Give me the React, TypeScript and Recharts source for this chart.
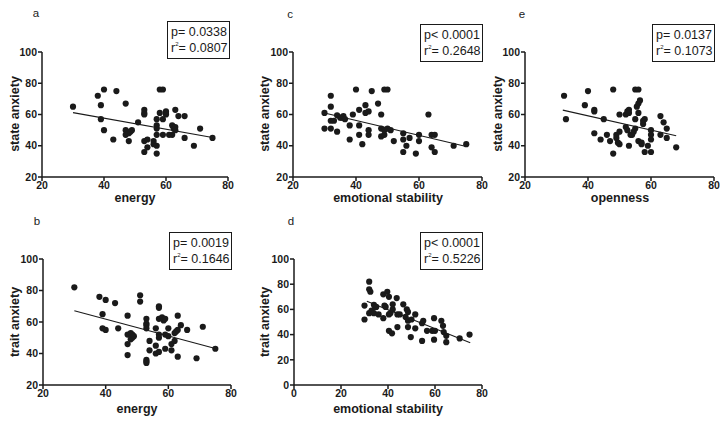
import React from "react";
import { ScatterChart, Scatter, XAxis, YAxis, ReferenceLine } from "recharts";

const FONT = '"Liberation Sans", Arial, Helvetica, sans-serif';
const INK = "#1a1a1a";

// panel a: energy vs state anxiety
const energyA = [30, 38, 40, 44, 39, 39, 40, 43, 47, 47, 47, 48, 48.5, 49, 48, 51, 53, 53, 53, 53, 53, 54, 54, 56, 56, 57, 57, 57, 57, 57, 57, 58, 58, 59, 59, 59, 60, 60, 60, 61, 62, 62, 62.5, 63, 63, 63, 64, 66, 66, 69, 71, 75];
const stateA = [65, 72, 76, 75, 66, 57, 50, 44, 67, 50, 47, 48, 49, 50, 43, 55, 63, 61, 60, 43, 36, 39, 44, 43, 41, 57, 53, 51, 47, 40, 35, 61, 76, 76, 57, 47, 61, 60, 62, 47, 47, 53, 51, 50, 52, 63, 59, 59, 45, 40, 51, 45];

// panel b: energy vs trait anxiety
const energyB = [30, 38, 39, 39, 40, 40, 43, 44, 47, 47, 47, 47, 48, 48.5, 48, 48.5, 49, 51, 51, 53, 53, 53, 53, 53, 53, 53, 54, 54, 56, 56, 56, 57, 57, 57, 57, 57, 57, 58, 58.5, 59, 59, 59, 60, 60, 61, 61, 62, 62, 62.5, 63, 63, 63, 64, 66, 69, 71, 75];
const traitB = [82, 76, 65, 56, 74, 55, 72, 56, 64, 52, 46, 39, 53, 52, 49, 50, 51, 77, 73, 62, 59, 58, 56, 36, 35, 34, 48, 42, 56, 45, 40, 70, 69, 62, 52, 50, 41, 63, 61, 62, 43, 52, 56, 51, 42, 46, 48, 53, 54, 64, 38, 55, 58, 55, 37, 57, 43];

// panel c: emotional stability vs state anxiety
const stabilityC = [30, 30, 32, 32, 32, 32, 33, 34, 34, 35, 35.5, 36, 36.5, 38, 38, 39, 40, 41, 41, 41, 42, 43, 43, 44, 44, 44, 45, 47, 48, 48, 48, 49, 49, 49, 50, 50, 51, 52, 55, 55, 55, 56, 57, 59, 60, 60, 63, 64, 65, 64, 65, 71, 75];
const stateC = [61, 51, 72, 65, 56, 51, 56, 59.5, 49, 58, 58, 59, 57, 53, 44, 60, 76, 63, 53, 47, 41, 66, 61, 62, 50, 47, 75, 67, 60, 51, 46, 47, 50, 76, 76, 51, 50, 43, 48, 44, 36, 40, 45, 35, 47, 43, 60, 47, 47, 39, 36, 40, 41];

// panel d: emotional stability vs trait anxiety
const stabilityD = [30, 30, 32, 32, 32.5, 32, 33, 34, 34.5, 34, 36, 35, 38, 38, 38.5, 39, 39.7, 40.4, 40.4, 41, 40.4, 41.7, 42, 42, 43.7, 44, 45, 44, 46.5, 48, 48.5, 47.5, 48.5, 50, 48.5, 49.7, 51.6, 51.6, 54.5, 55, 54.5, 56.6, 59.6, 58.8, 60, 59.6, 62.7, 63.4, 63.7, 64.8, 64.8, 70.5, 74.7];
const traitD = [63, 52, 82, 76, 74, 57, 59, 63.6, 62, 57, 56, 62, 72, 53, 63, 62, 74, 70, 56, 57, 43, 41, 64, 60, 69, 56, 56, 46, 64, 60, 58, 54, 51, 52, 46, 38, 56, 45, 49, 51, 35, 43, 53, 43, 43, 36, 51, 47, 42, 39, 34, 37, 40];

// panel e: openness vs state anxiety
const opennessE = [32.4, 33, 39, 40, 42, 42, 42, 45, 44, 46, 47, 48, 48, 49, 49, 49.5, 50, 50, 50, 52, 52.5, 52, 52.5, 53, 53, 53, 53.5, 54, 55, 55, 55, 56, 55.5, 56, 56.5, 56, 54.5, 56, 57, 57, 57.5, 58, 57.5, 58, 60, 59, 60, 60, 60, 63, 63, 64, 65, 65, 68];
const stateE = [72, 57, 66, 75, 63, 62, 48, 57, 44, 47, 43, 76, 35, 47, 45, 42, 41, 60, 49, 60, 62, 52, 50, 63, 61, 40, 47, 47, 57, 51, 76, 76, 65, 67, 69, 61, 49, 43, 42, 41, 56, 57, 54, 36, 36, 40, 50, 47, 44, 59, 47, 55, 51, 45, 39];

// regression line end points
const fitA = { x: [30, 75], y: [61.2, 45.3] };
const fitB = { x: [30, 75], y: [67.2, 43.2] };
const fitC = { x: [30, 75], y: [61, 39.5] };
const fitD = { x: [31, 75], y: [66.5, 33.5] };
const fitE = { x: [32, 68], y: [62.8, 46.4] };

const ticks20to80 = [20, 40, 60, 80];
const ticks0to80 = [0, 20, 40, 60, 80];
const ticks20to100 = [20, 40, 60, 80, 100];
const ticks0to100 = [0, 20, 40, 60, 80, 100];

const Y_AXIS_W = 30;
const X_AXIS_H = 20;

const toPoints = (xs: number[], ys: number[]) => xs.map((x, i) => ({ x, y: ys[i] }));

const Dot = (props: any) => <circle cx={props.cx} cy={props.cy} r={3.1} fill={INK} />;

interface PanelProps {
  left: number;
  top: number;
  width: number;
  height: number;
  // plot area edges inside the panel box
  plot: { top: number; right: number; bottom: number; left: number };
  xs: number[];
  ys: number[];
  fit: { x: number[]; y: number[] };
  xDomain: [number, number];
  xTicks: number[];
  yDomain: [number, number];
  yTicks: number[];
}

function Panel(p: PanelProps) {
  const tick = { fontSize: 10.5, fontWeight: 700, fill: INK, fontFamily: FONT };
  const margin = {
    top: p.plot.top,
    right: p.plot.right,
    bottom: p.plot.bottom - X_AXIS_H,
    left: p.plot.left - Y_AXIS_W,
  };
  return (
    <div style={{ position: "absolute", left: p.left, top: p.top }}>
      <ScatterChart width={p.width} height={p.height} margin={margin}>
        <XAxis
          type="number"
          dataKey="x"
          domain={p.xDomain}
          ticks={p.xTicks}
          interval={0}
          height={X_AXIS_H}
          tick={tick}
          tickSize={4}
          tickMargin={1}
          axisLine={{ stroke: INK, strokeWidth: 1.5 }}
          tickLine={{ stroke: INK, strokeWidth: 1.5 }}
          allowDataOverflow
        />
        <YAxis
          type="number"
          dataKey="y"
          domain={p.yDomain}
          ticks={p.yTicks}
          interval={0}
          width={Y_AXIS_W}
          tick={tick}
          tickSize={4}
          tickMargin={1}
          axisLine={{ stroke: INK, strokeWidth: 1.5 }}
          tickLine={{ stroke: INK, strokeWidth: 1.5 }}
          allowDataOverflow
        />
        <ReferenceLine
          segment={[
            { x: p.fit.x[0], y: p.fit.y[0] },
            { x: p.fit.x[1], y: p.fit.y[1] },
          ]}
          stroke={INK}
          strokeWidth={1.1}
        />
        <Scatter data={toPoints(p.xs, p.ys)} shape={Dot} isAnimationActive={false} />
      </ScatterChart>
    </div>
  );
}

function StatBox({ left, top, p, r }: { left: number; top: number; p: string; r: string }) {
  return (
    <div
      style={{
        position: "absolute",
        left,
        top,
        width: 57,
        border: `1.6px solid ${INK}`,
        padding: "2px 1px 2px 3px",
        fontFamily: FONT,
        fontSize: 12.5,
        lineHeight: "16px",
        color: INK,
        background: "#fff",
      }}
    >
      <div>{p}</div>
      <div>
        r<sup style={{ fontSize: 6, verticalAlign: "top", lineHeight: "8px" }}>2</sup>= {r}
      </div>
    </div>
  );
}

function Txt({ x, y, children, bold, size, rotate }: any) {
  return (
    <div
      style={{
        position: "absolute",
        left: x,
        top: y,
        transform: `translate(-50%, -50%)${rotate ? " rotate(-90deg)" : ""}`,
        fontFamily: FONT,
        fontWeight: bold ? 700 : 400,
        fontSize: size,
        color: INK,
        whiteSpace: "nowrap",
      }}
    >
      {children}
    </div>
  );
}

export default function App() {
  return (
    <div style={{ position: "absolute", left: 0, top: 0, width: 725, height: 424, background: "#fff", overflow: "hidden" }}>
      <Panel left={0} top={0} width={240} height={205} plot={{ top: 52, right: 12, bottom: 28, left: 42 }}
        xs={energyA} ys={stateA} fit={fitA} xDomain={[20, 80]} xTicks={ticks20to80} yDomain={[20, 100]} yTicks={ticks20to100} />
      <Panel left={240} top={0} width={250} height={205} plot={{ top: 52, right: 8, bottom: 28, left: 53 }}
        xs={stabilityC} ys={stateC} fit={fitC} xDomain={[20, 80]} xTicks={ticks20to80} yDomain={[20, 100]} yTicks={ticks20to100} />
      <Panel left={480} top={0} width={245} height={205} plot={{ top: 52, right: 11, bottom: 28, left: 45 }}
        xs={opennessE} ys={stateE} fit={fitE} xDomain={[20, 80]} xTicks={ticks20to80} yDomain={[20, 100]} yTicks={ticks20to100} />
      <Panel left={0} top={205} width={240} height={219} plot={{ top: 54, right: 9, bottom: 39, left: 43 }}
        xs={energyB} ys={traitB} fit={fitB} xDomain={[20, 80]} xTicks={ticks20to80} yDomain={[20, 100]} yTicks={ticks20to100} />
      <Panel left={240} top={205} width={250} height={219} plot={{ top: 54, right: 8, bottom: 39, left: 54 }}
        xs={stabilityD} ys={traitD} fit={fitD} xDomain={[0, 80]} xTicks={ticks0to80} yDomain={[0, 100]} yTicks={ticks0to100} />

      <Txt x={36} y={13} size={11.5}>a</Txt>
      <Txt x={290} y={14} size={11.5}>c</Txt>
      <Txt x={522} y={14} size={11.5}>e</Txt>
      <Txt x={37} y={221} size={11.5}>b</Txt>
      <Txt x={291} y={221} size={11.5}>d</Txt>

      <StatBox left={167} top={21} p="p= 0.0338" r="0.0807" />
      <StatBox left={420} top={24} p="p< 0.0001" r="0.2648" />
      <StatBox left={652} top={24} p="p= 0.0137" r="0.1073" />
      <StatBox left={169} top={232} p="p= 0.0019" r="0.1646" />
      <StatBox left={420} top={232} p="p< 0.0001" r="0.5226" />

      <Txt x={15} y={114} size={12.5} bold rotate>state anxiety</Txt>
      <Txt x={265} y={114} size={12.5} bold rotate>state anxiety</Txt>
      <Txt x={498} y={114} size={12.5} bold rotate>state anxiety</Txt>
      <Txt x={15} y={322} size={12.5} bold rotate>trait anxiety</Txt>
      <Txt x={265} y={322} size={12.5} bold rotate>trait anxiety</Txt>

      <Txt x={135} y={198} size={12.5} bold>energy</Txt>
      <Txt x={388} y={198} size={12.5} bold>emotional stability</Txt>
      <Txt x={620} y={198} size={12.5} bold>openness</Txt>
      <Txt x={137} y={409} size={12.5} bold>energy</Txt>
      <Txt x={388} y={409} size={12.5} bold>emotional stability</Txt>
    </div>
  );
}
